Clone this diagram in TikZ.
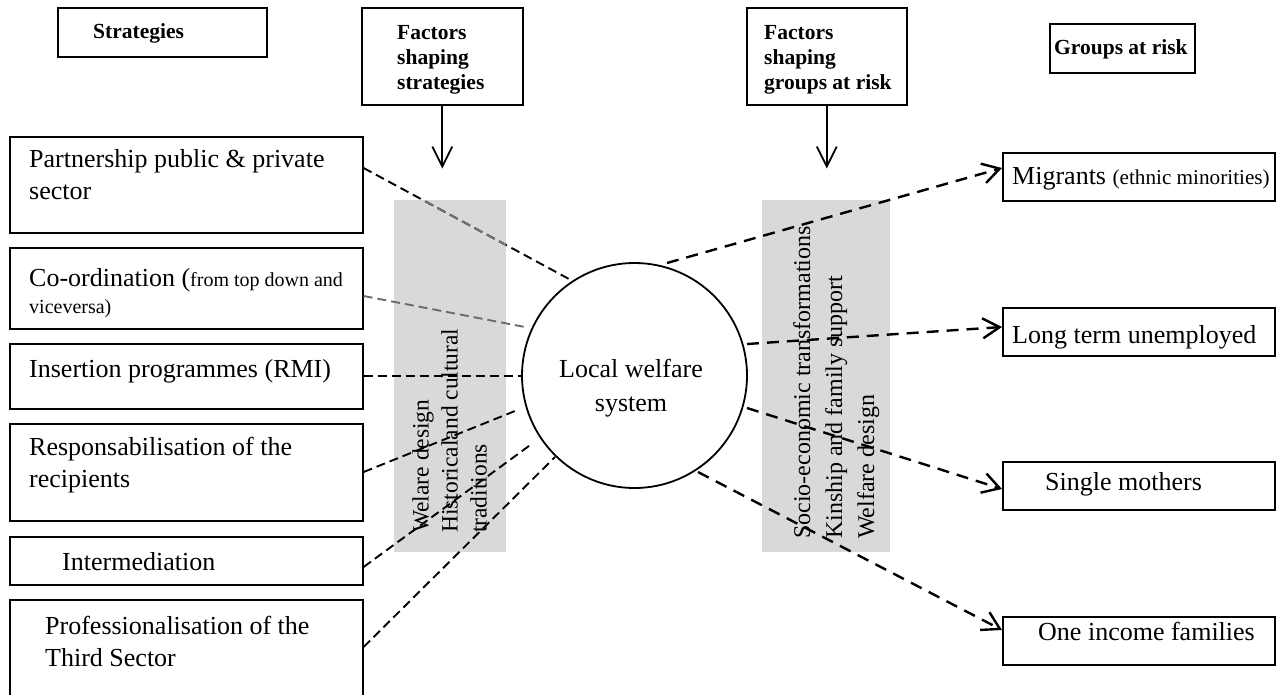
\documentclass[tikz,border=0pt]{standalone}
\usepackage{fontspec}
\setmainfont{Liberation Serif}
\usetikzlibrary{arrows.meta,calc}
\begin{document}
\begin{tikzpicture}[x=1pt,y=1pt,
  box/.style={draw=black,line width=1.6pt,rectangle,inner sep=0pt,anchor=north west},
  txt/.style={anchor=base west,inner sep=0pt,align=left,font=\fontsize{26}{32}\selectfont},
  head/.style={anchor=base west,inner sep=0pt,align=left,font=\fontsize{21.5}{25}\selectfont\bfseries},
  lline/.style={line width=1.9pt,dash pattern=on 9pt off 5pt},
  rline/.style={line width=2.4pt,dash pattern=on 12pt off 8pt,-{Straight Barb[length=17pt,width=20pt]}},
  downarrow/.style={line width=1.8pt,-{Straight Barb[length=20pt,width=20pt]}},
  bar/.style={fill=gray!30,draw=none,inner sep=0pt,anchor=north west},
  bartxt/.style={rotate=90,anchor=north west,inner sep=0pt,align=left}
]
\clip (0,0) rectangle (1279,-694);

% grey bars
\node[bar,minimum width=112pt,minimum height=352pt] (lbar) at (394,-200) {};
\node[bar,minimum width=128pt,minimum height=352pt] (rbar) at (762,-200) {};
\node[bartxt,font=\fontsize{23.5}{29}\selectfont] (lbt) at (412,-533) {Welare design\\Historicaland cultural\\traditions};
\node[bartxt,font=\fontsize{24}{32}\selectfont] (rbt) at (793,-539) {Socio-economic transformations\\Kinship and family support\\Welfare design};

% header boxes
\node[box,minimum width=209pt,minimum height=49pt] (s0) at (57,-7) {};
\node[head] (ts0) at (93,-38) {Strategies};
\node[box,minimum width=161pt,minimum height=97pt] (f1) at (361,-7) {};
\node[head] (tf1) at (397,-89) {Factors\\shaping\\strategies};
\node[box,minimum width=160pt,minimum height=97pt] (f2) at (746,-7) {};
\node[head] (tf2) at (764,-89) {Factors\\shaping\\groups at risk};
\node[box,minimum width=145pt,minimum height=49pt] (g0) at (1049,-23) {};
\node[head] (tg0) at (1054,-54) {Groups at risk};

% strategy boxes
\node[box,minimum width=353pt,minimum height=96pt] (b1) at (9,-136) {};
\node[txt] (tb1) at (29,-199) {Partnership public \& private\\sector};
\node[box,minimum width=353pt,minimum height=81pt] (b2) at (9,-247) {};
\node[txt,font=\fontsize{26}{27}\selectfont] (tb2) at (29,-313) {Co-ordination ({\fontsize{20}{27}\selectfont from top down and}\\{\fontsize{20}{27}\selectfont viceversa)}};
\node[box,minimum width=353pt,minimum height=65pt] (b3) at (9,-343) {};
\node[txt] (tb3) at (29,-377) {Insertion programmes (RMI)};
\node[box,minimum width=353pt,minimum height=97pt] (b4) at (9,-423) {};
\node[txt] (tb4) at (29,-487) {Responsabilisation of the\\recipients};
\node[box,minimum width=353pt,minimum height=48pt] (b5) at (9,-536) {};
\node[txt] (tb5) at (62,-570) {Intermediation};
\node[box,minimum width=353pt,minimum height=120pt] (b6) at (9,-599) {};
\node[txt] (tb6) at (45,-666) {Professionalisation of the\\Third Sector};

% groups at risk boxes
\node[box,minimum width=272pt,minimum height=48pt] (r1) at (1002,-152) {};
\node[txt] (tr1) at (1012,-184) {Migrants {\fontsize{21.2}{26}\selectfont(ethnic minorities)}};
\node[box,minimum width=272pt,minimum height=48pt] (r2) at (1002,-307) {};
\node[txt] (tr2) at (1012,-343) {Long term unemployed};
\node[box,minimum width=272pt,minimum height=48pt] (r3) at (1002,-461) {};
\node[txt] (tr3) at (1045,-490) {Single mothers};
\node[box,minimum width=272pt,minimum height=48pt] (r4) at (1002,-616) {};
\node[txt] (tr4) at (1038,-640) {One income families};

% central circle
\node[draw,circle,line width=1.8pt,minimum size=225pt,inner sep=0pt] (c) at (634.5,-375.5) {};
\node[anchor=north,inner sep=0pt,align=center,font=\fontsize{26}{34}\selectfont] (ct) at (631,-359) {Local welfare\\system};

% downward arrows
\coordinate (a1) at ($(f1.south)+(0,-63)$);
\coordinate (a2) at ($(f2.south)+(0,-63)$);
\draw[downarrow] (f1.south) -- (a1);
\draw[downarrow] (f2.south) -- (a2);

% left connectors
\coordinate (e1) at (569,-279);
\coordinate (e2) at (525,-327);
\coordinate (e3) at (522,-376);
\coordinate (e4) at (515,-411);
\coordinate (e5) at (533,-443);
\coordinate (e6) at (555,-457);
\draw[lline] ($(b1.north east)+(0,-32)$) -- (e1);
\begin{scope}
  \clip (394,-200) rectangle (506,-552);
  \draw[lline,draw=black!55] ($(b1.north east)+(0,-32)$) -- (e1);
\end{scope}
\draw[lline,draw=black!58] ($(b2.north east)+(0,-49)$) -- (e2);
\draw[lline] ($(b3.north east)+(0,-33)$) -- (e3);
\draw[lline] ($(b4.north east)+(0,-49)$) -- (e4);
\draw[lline] ($(b5.north east)+(0,-31)$) -- (e5);
\draw[lline] ($(b6.north east)+(0,-48)$) -- (e6);

% right connectors
\coordinate (s1) at (667,-263);
\coordinate (s2) at (747,-344);
\coordinate (s3) at (747,-408);
\coordinate (s4) at (698,-472);
\draw[rline] (s1) -- ($(r1.north west)+(0,-16)$);
\draw[rline] (s2) -- ($(r2.north west)+(0,-20)$);
\draw[rline] (s3) -- ($(r3.north west)+(0,-28)$);
\draw[rline] (s4) -- ($(r4.north west)+(0,-14)$);
\end{tikzpicture}
\end{document}
